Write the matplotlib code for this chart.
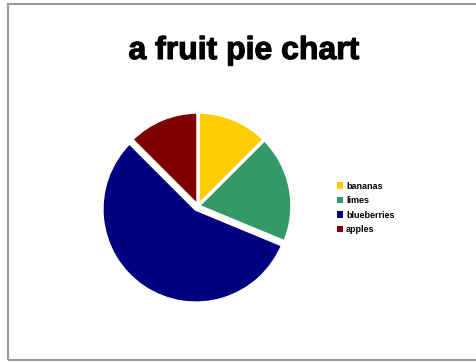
import matplotlib
matplotlib.use("Agg")
import matplotlib.pyplot as plt
from matplotlib.patches import Rectangle, Patch
import matplotlib.patheffects as pe

labels = ["bananas", "limes", "blueberries", "apples"]
values = [10, 15, 45, 10]
colors = ["#FFCC00", "#339966", "#000080", "#800000"]
explode = [0, 0.0, 0.04, 0]

W, H = 477, 362
fig = plt.figure(figsize=(W / 100, H / 100), dpi=100)
fig.patch.set_facecolor("white")

# outer chart frame
fig.add_artist(Rectangle((8.5 / W, 2 / H), (W - 8) / W, (H - 6) / H,
                         transform=fig.transFigure, fill=False,
                         edgecolor="#9a9a9a", linewidth=1.5))

cx, cy, r = 198, H - 206, 94
half = r * 1.1
ax = fig.add_axes([(cx - half) / W, (cy - half) / H, 2 * half / W, 2 * half / H])
ax.pie(values, colors=colors, startangle=90, counterclock=False, explode=explode,
       wedgeprops=dict(edgecolor="white", linewidth=2.5))
ax.set_xlim(-1.1, 1.1)
ax.set_ylim(-1.1, 1.1)
ax.set_aspect("equal")
ax.axis("off")

fig.text(244 / W, 1 - 51 / H, "a fruit pie chart", ha="center", va="center",
         fontsize=23, fontweight="bold", family="Liberation Sans",
         path_effects=[pe.withStroke(linewidth=0.8, foreground="black")])

handles = [Patch(facecolor=c, edgecolor="none") for c in colors]
leg = fig.legend(handles, labels, loc="center left",
                 bbox_to_anchor=(332 / W, 1 - 208 / H), frameon=False,
                 prop=dict(family="Liberation Sans", weight="bold", size=6.5),
                 handlelength=0.75, handleheight=0.75, handletextpad=0.3,
                 labelspacing=0.6, borderpad=0)

fig.savefig("out.png", dpi=100, facecolor="white")
